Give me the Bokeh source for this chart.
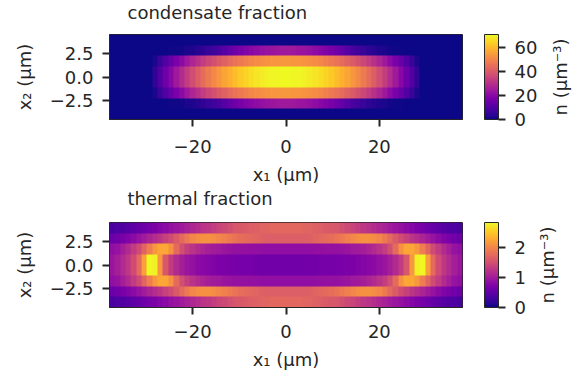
import numpy as np
from bokeh.plotting import figure
from bokeh.models import LinearColorMapper, ColorBar, FixedTicker, Range1d, Label, Plot
from bokeh.layouts import column, row
from bokeh.palettes import Plasma256
from bokeh.embed import file_html
from bokeh.resources import INLINE

# ---------------- data ----------------
x1_extent = [-37.8, 37.8]      # micrometres
x2_extent = [-4.55, 4.55]

x1_ticks = [-20, 0, 20]
x1_tick_labels = ["\u221220", "0", "20"]
x2_ticks = [-2.5, 0.0, 2.5]
x2_tick_labels = ["\u22122.5", "0.0", "2.5"]

# condensate density (um^-3), one list per x2 row (|x2| = 4.0, 2.9, 1.7, 0.6)
cond_row_edge = [0, 0, 0, 0, 0, 0, 0, 0, 0, 0, 0, 0, 0, 0, 0, 0, 0, 0, 0, 0, 0, 0,
                 0, 0, 0, 0, 0, 0, 0, 0, 0, 0, 0, 0, 0, 0, 0, 0, 0, 0, 0, 0, 0, 0,
                 0, 0, 0, 0, 0, 0, 0, 0, 0, 0, 0, 0, 0, 0, 0, 0, 0, 0, 0, 0, 0, 0]
cond_row_a = [0, 0, 0, 0, 0, 0, 0, 0, 0, 0.1, 0.2, 0.3, 0.4, 0.7, 1.4, 2.1, 3.2, 4.2, 5.7,
              7.1, 8.5, 10.9, 13.1, 15.1, 16.9, 18.5, 19.8, 21.0, 22.0, 22.9, 23.4, 23.9, 24.1,
              24.1, 23.9, 23.4, 22.9, 22.0, 21.0, 19.8, 18.5, 16.9, 15.1, 13.1, 10.9, 8.5, 7.1,
              5.7, 4.2, 3.2, 2.1, 1.4, 0.7, 0.4, 0.3, 0.2, 0.1, 0, 0, 0, 0, 0, 0, 0, 0, 0]
cond_row_b = [0, 0, 0, 0, 0, 0, 0, 0, 1.6, 5.8, 9.8, 13.6, 17.3, 20.7, 24.0, 27.2, 30.1,
              32.9, 35.5, 37.9, 40.2, 42.3, 44.2, 45.9, 47.5, 48.9, 50.1, 51.2, 52.0, 52.7,
              53.2, 53.6, 53.8,
              53.8, 53.6, 53.2, 52.7, 52.0, 51.2, 50.1, 48.9, 47.5, 45.9, 44.2, 42.3, 40.2,
              37.9, 35.5, 32.9, 30.1, 27.2, 24.0, 20.7, 17.3, 13.6, 9.8, 5.8, 1.6,
              0, 0, 0, 0, 0, 0, 0, 0]
cond_row_c = [0, 0, 0, 0, 0, 0, 0, 0, 4.5, 9.8, 14.9, 19.8, 24.4, 28.8, 33.0, 37.0, 40.7,
              44.3, 47.6, 50.7, 53.5, 56.2, 58.6, 60.8, 62.8, 64.6, 66.1, 67.5, 68.5, 69.5,
              70.1, 70.5, 70.8,
              70.8, 70.5, 70.1, 69.5, 68.5, 67.5, 66.1, 64.6, 62.8, 60.8, 58.6, 56.2, 53.5,
              50.7, 47.6, 44.3, 40.7, 37.0, 33.0, 28.8, 24.4, 19.8, 14.9, 9.8, 4.5,
              0, 0, 0, 0, 0, 0, 0, 0]

# thermal density (um^-3)
therm_row_edge = [0.34, 0.37, 0.40, 0.43, 0.48, 0.54, 0.60, 0.66, 0.71, 0.77, 0.83, 0.88,
                  0.94, 1.00, 1.05, 1.11, 1.17, 1.23, 1.28, 1.34, 1.40, 1.45, 1.51, 1.57,
                  1.60, 1.62, 1.65, 1.68, 1.71, 1.71, 1.74, 1.74, 1.74,
                  1.74, 1.74, 1.74, 1.71, 1.71, 1.68, 1.65, 1.62, 1.60, 1.57, 1.51, 1.45,
                  1.40, 1.34, 1.28, 1.23, 1.17, 1.11, 1.05, 1.00, 0.94, 0.88, 0.83, 0.77,
                  0.71, 0.66, 0.60, 0.54, 0.48, 0.43, 0.40, 0.37, 0.34]
therm_row_a = [0.57, 0.63, 0.68, 0.74, 0.83, 0.91, 1.00, 1.08, 1.17, 1.25, 1.37, 1.48,
               1.62, 1.77, 1.91, 2.02, 2.08, 2.11, 2.11, 2.08, 2.02, 1.97, 1.91, 1.85,
               1.80, 1.77, 1.74, 1.71, 1.68, 1.65, 1.65, 1.65, 1.65,
               1.65, 1.65, 1.65, 1.65, 1.68, 1.71, 1.74, 1.77, 1.80, 1.85, 1.91, 1.97,
               2.02, 2.08, 2.11, 2.11, 2.08, 2.02, 1.91, 1.77, 1.62, 1.48, 1.37, 1.25,
               1.17, 1.08, 1.00, 0.91, 0.83, 0.74, 0.68, 0.63, 0.57]
therm_row_b = [0.86, 0.91, 1.03, 1.14, 1.31, 1.48, 1.71, 1.94, 2.17, 2.28, 2.28, 2.11,
               1.77, 1.51, 1.34, 1.23, 1.14, 1.08, 1.03, 1.00, 0.97, 0.94, 0.91, 0.88,
               0.88, 0.88, 0.87, 0.87, 0.86, 0.86, 0.86, 0.86, 0.86,
               0.86, 0.86, 0.86, 0.86, 0.86, 0.87, 0.87, 0.88, 0.88, 0.88, 0.91, 0.94,
               0.97, 1.00, 1.03, 1.08, 1.14, 1.23, 1.34, 1.51, 1.77, 2.11, 2.28, 2.28,
               2.17, 1.94, 1.71, 1.48, 1.31, 1.14, 1.03, 0.91, 0.86]
therm_row_c = [0.94, 1.03, 1.14, 1.28, 1.48, 1.77, 2.22, 2.85, 2.79, 2.17, 1.60, 1.31,
               1.14, 1.03, 0.94, 0.88, 0.83, 0.80, 0.77, 0.74, 0.71, 0.71, 0.68, 0.68,
               0.66, 0.66, 0.66, 0.63, 0.63, 0.63, 0.63, 0.63, 0.63,
               0.63, 0.63, 0.63, 0.63, 0.63, 0.63, 0.66, 0.66, 0.66, 0.68, 0.68, 0.71,
               0.71, 0.74, 0.77, 0.80, 0.83, 0.88, 0.94, 1.03, 1.14, 1.31, 1.60, 2.17,
               2.79, 2.85, 2.22, 1.77, 1.48, 1.28, 1.14, 1.03, 0.94]

cond_rows = [cond_row_edge, cond_row_a, cond_row_b, cond_row_c,
             cond_row_c, cond_row_b, cond_row_a, cond_row_edge]
therm_rows = [therm_row_edge, therm_row_a, therm_row_b, therm_row_c,
              therm_row_c, therm_row_b, therm_row_a, therm_row_edge]

cond_color_range = [0, 70.8]
therm_color_range = [0, 2.85]
cond_cbar_ticks = [0, 20, 40, 60]
therm_cbar_ticks = [0, 1, 2]
cbar_label = "n (\u03bcm\u207b\u00b3)"
titles = ["condensate fraction", "thermal fraction"]

for r in cond_rows + therm_rows:
    assert len(r) == 66, len(r)

# ---------------- styling ----------------
FONT = "DejaVu Sans"
TXT = "#262626"
FS = "18px"
TOTAL_W = 583
FRAME_L, FRAME_R = 109, 462


def bare_plot(width, height, xr, yr, no_title=False, **borders):
    extra = dict(title_location=None) if no_title else {}
    b = Plot(width=width, height=height, x_range=xr, y_range=yr,
             toolbar_location=None, output_backend="svg",
             outline_line_color=None, border_fill_color="white",
             background_fill_color="white", **extra, **borders)
    if not no_title:
        b.title.visible = False
    return b


def title_strip(text, strip_h, label_y):
    fw = FRAME_R - FRAME_L
    s = bare_plot(TOTAL_W, strip_h, Range1d(0, fw), Range1d(0, strip_h), no_title=True,
                  min_border_left=FRAME_L, min_border_right=TOTAL_W - FRAME_R,
                  min_border_top=0, min_border_bottom=0)
    s.add_layout(Label(x=18, y=label_y, text=text,
                       text_align="left", text_baseline="alphabetic",
                       text_font=FONT, text_font_size=FS, text_color=TXT))
    return s


def panel(rows, crange, cticks, height, bottom, main_w, label_x, tick_standoff):
    p = figure(width=main_w, height=height, output_backend="svg", toolbar_location=None,
               x_range=Range1d(*x1_extent), y_range=Range1d(*x2_extent),
               min_border_left=FRAME_L, min_border_right=main_w - FRAME_R,
               min_border_top=0, min_border_bottom=bottom)
    p.title.visible = False
    mapper = LinearColorMapper(palette=Plasma256, low=crange[0], high=crange[1])
    p.image(image=[np.array(rows, dtype=float)], x=x1_extent[0], y=x2_extent[0],
            dw=x1_extent[1] - x1_extent[0], dh=x2_extent[1] - x2_extent[0],
            color_mapper=mapper)
    p.grid.visible = False
    p.outline_line_color = TXT
    p.outline_line_width = 1
    p.background_fill_color = "white"
    p.border_fill_color = "white"

    p.xaxis.ticker = FixedTicker(ticks=x1_ticks)
    p.xaxis.major_label_overrides = dict(zip(x1_ticks, x1_tick_labels))
    p.yaxis.ticker = FixedTicker(ticks=x2_ticks)
    p.yaxis.major_label_overrides = dict(zip(x2_ticks, x2_tick_labels))
    p.xaxis.axis_label = "x\u2081 (\u03bcm)"
    p.yaxis.axis_label = "x\u2082 (\u03bcm)"
    for ax in (p.xaxis, p.yaxis):
        ax.axis_line_color = TXT
        ax.major_tick_line_color = TXT
        ax.major_tick_line_width = 2
        ax.major_tick_out = 7
        ax.major_tick_in = 0
        ax.minor_tick_line_color = None
        ax.major_label_text_font = FONT
        ax.major_label_text_font_size = FS
        ax.major_label_text_color = TXT
        ax.axis_label_text_font = FONT
        ax.axis_label_text_font_size = FS
        ax.axis_label_text_font_style = "normal"
        ax.axis_label_text_color = TXT
    p.xaxis.major_label_standoff = tick_standoff
    p.yaxis.major_label_standoff = 9
    p.xaxis.axis_label_standoff = 8
    p.yaxis.axis_label_standoff = 12

    cb = ColorBar(color_mapper=mapper, ticker=FixedTicker(ticks=cticks),
                  width=14, height=85, padding=0, margin=0, location=(22, 0),
                  major_tick_out=7, major_tick_in=0,
                  major_tick_line_color=TXT, major_tick_line_width=2,
                  minor_tick_line_color=None,
                  bar_line_color=TXT, bar_line_width=1,
                  label_standoff=9,
                  major_label_text_font=FONT, major_label_text_font_size=FS,
                  major_label_text_color=TXT,
                  background_fill_color=None, border_line_color=None)
    p.add_layout(cb, "right")

    # narrow companion plot carrying the rotated colour-bar label
    lw = TOTAL_W - main_w
    lab = bare_plot(lw, height, Range1d(0, lw), Range1d(*x2_extent), min_border=0)
    lab.add_layout(Label(x=label_x - main_w, y=0, text=cbar_label,
                         angle=90, angle_units="deg", text_align="center",
                         text_baseline="middle", text_font=FONT, text_font_size=FS,
                         text_color=TXT))
    return row(p, lab)


# top block: page rows 0..188, frame 34..119 ; bottom block: 188..379, frame 222..307
s1 = title_strip(titles[0], 34, 22)
r1 = panel(cond_rows, cond_color_range, cond_cbar_ticks, 188 - 34, 69, 541, 560, 13)
s2 = title_strip(titles[1], 34, 24)
r2 = panel(therm_rows, therm_color_range, therm_cbar_ticks, 379 - 188 - 34, 72, 530, 547, 10)

layout = column(s1, r1, s2, r2)
open("out.html", "w").write(file_html(layout, INLINE))
